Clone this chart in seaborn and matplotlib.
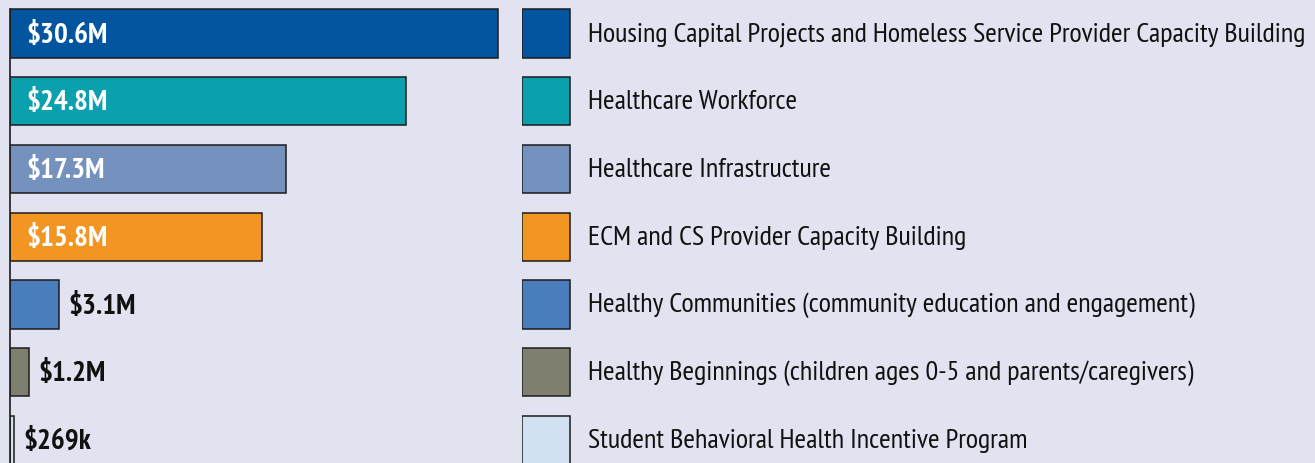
import matplotlib
matplotlib.use("Agg")
import matplotlib.pyplot as plt
from matplotlib.patches import Rectangle
import seaborn as sns
import pandas as pd

categories = [
    "Housing Capital Projects and Homeless Service Provider Capacity Building",
    "Healthcare Workforce",
    "Healthcare Infrastructure",
    "ECM and CS Provider Capacity Building",
    "Healthy Communities (community education and engagement)",
    "Healthy Beginnings (children ages 0-5 and parents/caregivers)",
    "Student Behavioral Health Incentive Program",
]
amounts_musd = [30.6, 24.8, 17.3, 15.8, 3.1, 1.2, 0.269]
value_labels = ["$30.6M", "$24.8M", "$17.3M", "$15.8M", "$3.1M", "$1.2M", "$269k"]
colors = ["#0455a0", "#0ba0ad", "#7592bf", "#f39522", "#497dbc", "#7f7f70", "#d2e1f2"]

BG = "#e1e3f0"
EDGE = "#1c1c1c"

sns.set_theme(style="white")
plt.rcParams["font.family"] = ["PT Sans Narrow", "DejaVu Sans"]

W, H = 1315, 464
fig = plt.figure(figsize=(W / 100, H / 100), dpi=100, facecolor=BG)

df = pd.DataFrame({"category": categories, "amount": amounts_musd})

# bar panel
px_per_unit = 15.95
x_max = 32
ax = fig.add_axes([10 / W, 0, x_max * px_per_unit / W, 1])
ax.set_facecolor(BG)
sns.barplot(data=df, y="category", x="amount", hue="category", palette=colors,
            order=categories, hue_order=categories, legend=False, width=0.71,
            edgecolor=EDGE, linewidth=1.1, saturation=1, ax=ax)
ax.set_xlim(0, x_max)
ax.set_ylim(6.34, -0.51)
ax.set_xlabel("")
ax.set_ylabel("")
ax.set_xticks([])
ax.set_yticks([])
for side in ["top", "right", "bottom"]:
    ax.spines[side].set_visible(False)
ax.spines["left"].set_color(EDGE)
ax.spines["left"].set_linewidth(1.2)
ax.spines["left"].set_bounds(-0.355, 6.34)

for i, (val, lab) in enumerate(zip(amounts_musd, value_labels)):
    if val > 10:
        ax.annotate(lab, xy=(0, i), xytext=(11.5, -0.8), textcoords="offset points",
                    ha="left", va="center", color="white", fontsize=21,
                    fontweight="bold")
    else:
        ax.annotate(lab, xy=(val, i), xytext=(6.5, -0.8), textcoords="offset points",
                    ha="left", va="center", color="#111111", fontsize=21,
                    fontweight="bold")

# legend panel
lx0 = 522
lax = fig.add_axes([lx0 / W, 0, (W - lx0) / W, 1])
lax.set_facecolor(BG)
lax.set_xlim(0, W - lx0)
lax.set_ylim(6.34, -0.51)
lax.axis("off")
for i, (cat, col) in enumerate(zip(categories, colors)):
    lax.add_patch(Rectangle((0, i - 0.355), 48, 0.71, facecolor=col,
                            edgecolor=EDGE, linewidth=1.1))
    lax.text(66, i, cat, ha="left", va="center", fontsize=20.3, color="#111111")

fig.savefig("out.png", dpi=100, facecolor=BG)
